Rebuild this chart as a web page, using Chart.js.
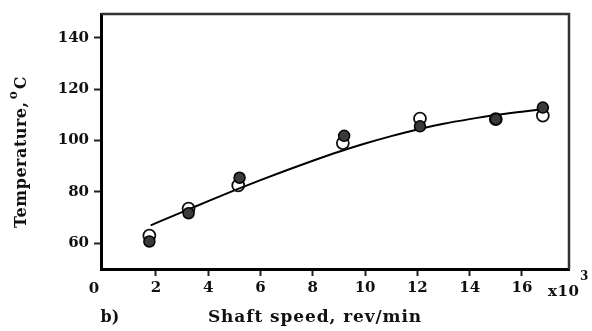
<!DOCTYPE html>
<html>
<head>
<meta charset="utf-8">
<script src="https://cdn.jsdelivr.net/npm/chart.js@4.4.1/dist/chart.umd.min.js"></script>
<style>
  html, body { margin: 0; padding: 0; background: #fff; }
  #wrap { width: 592px; height: 331px; }
</style>
</head>
<body>
<div id="wrap"><canvas id="grafico" width="592" height="331"></canvas></div>
<script>
// valores (velocidade em x10^3 rev/min, temperatura em °C)
const speedOpen = [1.75, 3.25, 5.15, 9.15, 12.1, 15.0, 16.8];
const tempOpen = [63, 73.5, 82.5, 99, 108.5, 108.3, 109.7];

const speedFilled = [1.75, 3.25, 5.2, 9.2, 12.1, 15.0, 16.8];
const tempFilled = [60.7, 71.7, 85.5, 101.8, 105.5, 108.3, 112.8];

// curva ajustada
const fitSpeed = [1.8, 3, 4, 5, 6, 7, 8, 9, 10, 11, 12, 13, 14, 15, 16, 16.8];
const fitTemp = [67, 72.1, 76.4, 80.6, 84.6, 88.4, 92.1, 95.6, 98.8, 101.7, 104.3, 106.5, 108.3, 109.9, 111.2, 112.2];

const xTicks = [2, 4, 6, 8, 10, 12, 14, 16];
const yTicks = [60, 80, 100, 120, 140];

const familia = '"DejaVu Serif"';
const tinta = '#111';

function pares(xs, ys) {
    return xs.map((x, i) => ({ x: x, y: ys[i] }));
}

// moldura de cima e da direita + textos soltos
const extras = {
    id: 'extras',
    afterDraw(chart) {
        const c = chart.ctx;
        const a = chart.chartArea;
        c.save();
        c.strokeStyle = '#333';
        c.lineWidth = 2.5;
        c.beginPath();
        c.moveTo(a.left, a.top);
        c.lineTo(a.right, a.top);
        c.lineTo(a.right, a.bottom);
        c.stroke();

        c.fillStyle = tinta;
        c.textBaseline = 'middle';
        c.textAlign = 'center';
        c.font = 'bold 15px ' + familia;
        c.fillText('0', 94, 289);
        c.font = 'bold 16px ' + familia;
        c.fillText('b)', 110, 318);
        c.letterSpacing = '0.9px';
        c.font = 'bold 17px ' + familia;
        c.fillText('Shaft speed, rev/min', 315, 318);
        c.letterSpacing = '0.5px';
        c.textAlign = 'left';
        c.font = 'bold 15px ' + familia;
        c.fillText('x10', 548, 292);
        c.font = 'bold 12px ' + familia;
        c.fillText('3', 580, 277);

        // título do eixo y
        c.translate(22, 152);
        c.rotate(-Math.PI / 2);
        c.font = 'bold 16px ' + familia;
        c.textAlign = 'center';
        c.fillText('Temperature,  C', 0, 0);
        c.font = 'bold 12px ' + familia;
        c.fillText('o', 57, -8);
        c.restore();
    }
};

const ctx = document.getElementById('grafico');

new Chart(ctx, {
    type: 'scatter',
    data: {
        datasets: [
            {
                label: 'filled',
                data: pares(speedFilled, tempFilled),
                pointRadius: 5.5,
                pointBackgroundColor: '#3a3a3a',
                pointBorderColor: '#000',
                pointBorderWidth: 1.5,
                order: 0
            },
            {
                label: 'open',
                data: pares(speedOpen, tempOpen),
                pointRadius: 6,
                pointBackgroundColor: 'rgba(255,255,255,0)',
                pointBorderColor: '#111',
                pointBorderWidth: 1.8,
                order: 1
            },
            {
                label: 'fit',
                type: 'line',
                data: pares(fitSpeed, fitTemp),
                borderColor: '#000',
                borderWidth: 2,
                pointRadius: 0,
                cubicInterpolationMode: 'monotone',
                fill: false,
                order: 2
            }
        ]
    },
    options: {
        responsive: false,
        animation: false,
        layout: { padding: { top: 11, right: 23, left: 0, bottom: 0 } },
        plugins: {
            legend: { display: false },
            tooltip: { enabled: false }
        },
        scales: {
            x: {
                type: 'linear',
                min: -0.1,
                max: 17.8,
                afterBuildTicks: s => { s.ticks = xTicks.map(v => ({ value: v })); },
                afterFit: s => { s.height = 62; },
                grid: {
                    drawOnChartArea: false,
                    drawTicks: true,
                    tickLength: 7,
                    tickWidth: 2,
                    tickColor: '#222'
                },
                border: { display: true, color: '#000', width: 3 },
                ticks: {
                    color: tinta,
                    font: { family: 'DejaVu Serif', size: 15, weight: 'bold' },
                    padding: 3,
                    maxRotation: 0
                }
            },
            y: {
                min: 50,
                max: 149.2,
                afterBuildTicks: s => { s.ticks = yTicks.map(v => ({ value: v })); },
                afterFit: s => { s.width = 101; },
                grid: {
                    drawOnChartArea: false,
                    drawTicks: true,
                    tickLength: 7,
                    tickWidth: 2,
                    tickColor: '#222'
                },
                border: { display: true, color: '#000', width: 3 },
                ticks: {
                    color: tinta,
                    font: { family: 'DejaVu Serif', size: 15, weight: 'bold' },
                    padding: 5
                }
            }
        }
    },
    plugins: [extras]
});
</script>
</body>
</html>
